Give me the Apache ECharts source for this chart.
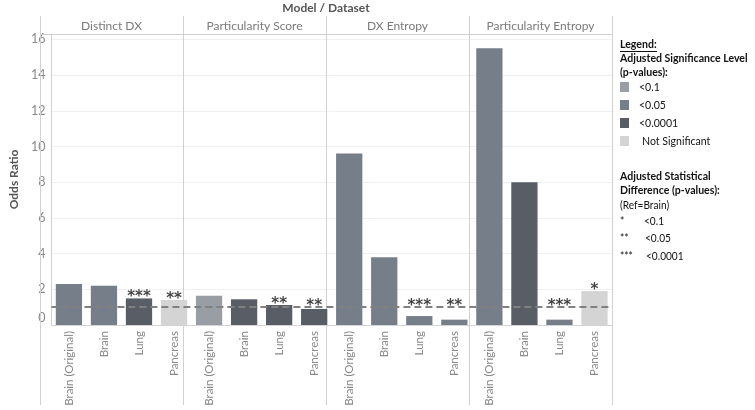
<!DOCTYPE html>
<html>
<head>
<meta charset="utf-8">
<script src="https://cdn.jsdelivr.net/npm/echarts@6/dist/echarts.min.js"></script>
<style>
html,body{margin:0;padding:0;background:#fff;}
#c{width:755px;height:410px;}
</style>
</head>
<body>
<div id="c"></div>
<script>
// ---- data ----
const panels = ['Distinct DX', 'Particularity Score', 'DX Entropy', 'Particularity Entropy'];
const datasets = ['Brain (Original)', 'Brain', 'Lung', 'Pancreas'];

const distinctDX = [2.30, 2.20, 1.49, 1.40];
const particularityScore = [1.64, 1.44, 1.12, 0.90];
const dxEntropy = [9.60, 3.79, 0.50, 0.30];
const particularityEntropy = [15.5, 7.99, 0.30, 1.90];

const distinctDXSig = ['<0.05', '<0.05', '<0.0001', 'Not Significant'];
const particularityScoreSig = ['<0.1', '<0.0001', '<0.0001', '<0.0001'];
const dxEntropySig = ['<0.05', '<0.05', '<0.05', '<0.05'];
const particularityEntropySig = ['<0.05', '<0.0001', '<0.05', 'Not Significant'];

const distinctDXStars = ['', '', '***', '**'];
const particularityScoreStars = ['', '', '**', '**'];
const dxEntropyStars = ['', '', '***', '**'];
const particularityEntropyStars = ['', '', '***', '*'];

const sigLevels = ['<0.1', '<0.05', '<0.0001', 'Not Significant'];
const sigColors = ['#999da4', '#767e8a', '#595d66', '#d4d4d4'];
const diffSymbols = ['*', '**', '***'];
const diffLabels = ['<0.1', '<0.05', '<0.0001'];
const referenceValue = 1;
const yTickInterval = 2;

// ---- build ----
const values = [].concat(distinctDX, particularityScore, dxEntropy, particularityEntropy);
const sigs = [].concat(distinctDXSig, particularityScoreSig, dxEntropySig, particularityEntropySig);
const stars = [].concat(distinctDXStars, particularityScoreStars, dxEntropyStars, particularityEntropyStars);
const cats = [];
panels.forEach(() => datasets.forEach(d => cats.push(d)));
const colorOf = s => sigColors[sigLevels.indexOf(s)];

const W = 755, H = 410;
const GL = 40, GR = 612, GT = 34, GB = 325;
const HEAD_TOP = 16, LINE_BOTTOM = 405;
const FONT = 'Lato, "Noto Sans", sans-serif';
const LFONT = 'Lato, sans-serif';
const LSCALE = 0.88;

const chart = echarts.init(document.getElementById('c'), null, {renderer: 'canvas'});

const graphics = [];
// title
graphics.push({type: 'text', style: {text: 'Model / Dataset', x: (GL + GR) / 2, y: 8, align: 'center', verticalAlign: 'middle', font: 'bold 12px ' + FONT, fill: '#555'}});
// panel headers and dividers
const pw = (GR - GL) / panels.length;
panels.forEach((p, i) => {
  graphics.push({type: 'text', style: {text: p, x: GL + pw * (i + 0.5), y: 26, align: 'center', verticalAlign: 'middle', font: '12px ' + FONT, fill: '#7a7a7a'}});
});
for (let i = 0; i <= panels.length; i++) {
  const x = Math.round(GL + pw * i) + 0.5;
  graphics.push({type: 'line', shape: {x1: x, y1: HEAD_TOP, x2: x, y2: LINE_BOTTOM}, style: {stroke: '#d0d0d0', lineWidth: 1}, z: 1});
}
graphics.push({type: 'line', shape: {x1: GL, y1: GT + 0.5, x2: GR, y2: GT + 0.5}, style: {stroke: '#d0d0d0', lineWidth: 1}, z: 1});

// legend
const LX = 620;
function ltext(text, dx, y, font) {
  graphics.push({type: 'text', x: LX + dx, y: y, scaleX: LSCALE, style: {text: text, x: 0, y: 0, verticalAlign: 'middle', font: font, fill: '#111'}});
}
ltext('Legend:', 0, 44, 'bold 12px ' + LFONT);
graphics.push({type: 'line', shape: {x1: LX, y1: 51.5, x2: LX + 37, y2: 51.5}, style: {stroke: '#111', lineWidth: 1}});
ltext('Adjusted Significance Level', 0, 58, 'bold 12px ' + LFONT);
ltext('(p-values):', 0, 72.5, 'bold 12px ' + LFONT);
sigLevels.forEach((s, i) => {
  const cy = 87 + i * 18;
  graphics.push({type: 'rect', shape: {x: LX, y: cy - 5, width: 9, height: 10}, style: {fill: sigColors[i]}});
  ltext(s, i === 3 ? 22 : 19, cy, '12px ' + LFONT);
});
ltext('Adjusted Statistical', 0, 176, 'bold 12px ' + LFONT);
ltext('Difference (p-values):', 0, 190.5, 'bold 12px ' + LFONT);
ltext('(Ref=Brain)', 0, 205, '11.5px ' + LFONT);
diffSymbols.forEach((s, i) => {
  const cy = 221 + i * 17.5;
  ltext(s, 0, cy, '11.5px ' + LFONT);
  ltext(diffLabels[i], i === 0 ? 24 : i === 1 ? 25 : 26, cy, '11.5px ' + LFONT);
});

const option = {
  animation: false,
  backgroundColor: '#fff',
  textStyle: {fontFamily: FONT},
  grid: {left: GL, right: W - GR, top: GT, bottom: H - GB, containLabel: false},
  xAxis: {
    type: 'category',
    data: cats,
    axisLine: {show: true, lineStyle: {color: '#d4d4d4'}},
    axisTick: {show: false},
    axisLabel: {rotate: 90, interval: 0, margin: 6, fontSize: 11.5, color: '#8a8a8a', fontFamily: FONT},
    splitLine: {show: false}
  },
  yAxis: {
    type: 'value',
    min: 0, max: 16.3, interval: yTickInterval,
    name: 'Odds Ratio',
    nameLocation: 'middle',
    nameGap: 31,
    nameTextStyle: {fontSize: 12, fontWeight: 'bold', color: '#555', fontFamily: FONT},
    axisLine: {show: true, lineStyle: {color: '#d0d0d0'}},
    axisTick: {show: false},
    axisLabel: {
      showMaxLabel: false, margin: 6, fontSize: 12.5, color: '#8a8a8a', fontFamily: FONT,
      formatter: v => v === 0 ? '{z|0}' : String(v),
      rich: {z: {fontSize: 12.5, color: '#8a8a8a', fontFamily: FONT, padding: [0, 0, 14, 0]}}
    },
    splitLine: {show: true, lineStyle: {color: '#f0f0f0', width: 1}}
  },
  series: [
    {
      type: 'bar',
      barWidth: '75%',
      data: values.map((v, i) => ({value: v, itemStyle: {color: colorOf(sigs[i])}})),
      markLine: {
        silent: true, symbol: 'none', label: {show: false},
        lineStyle: {color: '#808080', type: [7, 4], width: 2},
        data: [{yAxis: referenceValue}]
      },
      z: 2
    },
    {
      type: 'scatter',
      symbolSize: 0,
      data: values.map((v, i) => [i, Math.max(v, referenceValue)]),
      label: {
        show: true, position: 'inside', offset: [0, -1],
        formatter: p => stars[p.dataIndex],
        fontSize: 15, fontWeight: 'bold', color: '#111', fontFamily: '"DejaVu Sans", sans-serif'
      },
      z: 5
    }
  ],
  graphic: graphics
};
chart.setOption(option);
</script>
</body>
</html>
